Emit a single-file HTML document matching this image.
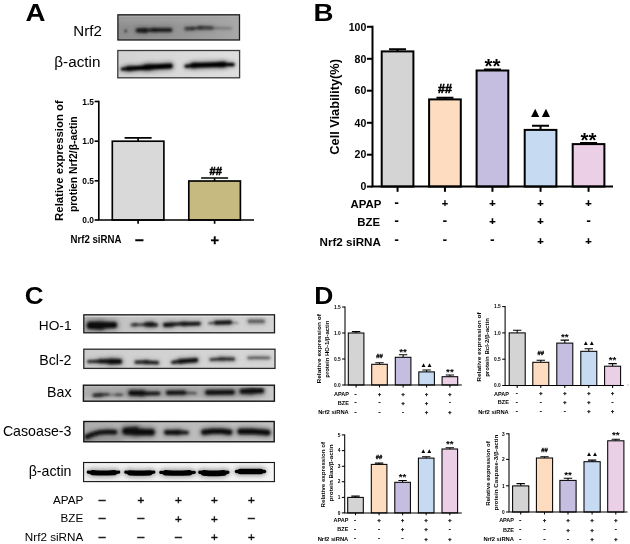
<!DOCTYPE html>
<html lang="en"><head><meta charset="utf-8"><title>Figure</title>
<style>html,body{margin:0;padding:0;background:#fff}svg{display:block;filter:blur(0.3px)}text{font-family:'Liberation Sans', 'DejaVu Sans', sans-serif;fill:#000}</style>
</head><body>
<svg width="630" height="544" viewBox="0 0 630 544">
<defs>
<filter id="halo" x="-20%" y="-150%" width="140%" height="400%"><feGaussianBlur stdDeviation="2.2"/></filter>
</defs>
<rect width="630" height="544" fill="#fff"/>
<text transform="translate(25.6,21.4) scale(1.14,1)" font-size="24.3" font-weight="bold">A</text>
<text x="73.3" y="36.4" font-size="15.1" text-anchor="start">Nrf2</text>
<text x="54.3" y="66.8" font-size="15.25" text-anchor="start">β-actin</text>
<linearGradient id="bg0" x1="0" y1="0" x2="1" y2="0"><stop offset="0" stop-color="#8e8e8e"/><stop offset="0.45" stop-color="#959595"/><stop offset="0.8" stop-color="#a0a0a0"/><stop offset="1" stop-color="#a9a9a9"/></linearGradient>
<clipPath id="cp0"><rect x="117.9" y="14.8" width="121.6" height="25.2"/></clipPath>
<filter id="bl0" filterUnits="userSpaceOnUse" x="109.9" y="6.8" width="137.6" height="41.2"><feGaussianBlur stdDeviation="1.05"/></filter>
<filter id="hl0" filterUnits="userSpaceOnUse" x="109.9" y="6.8" width="137.6" height="41.2"><feGaussianBlur stdDeviation="2.2"/></filter>
<rect x="117.9" y="14.8" width="121.6" height="25.2" fill="url(#bg0)"/>
<g clip-path="url(#cp0)">
<rect x="117" y="16" width="124" height="7" fill="#a8a8a8" opacity="0.5" filter="url(#halo)"/>
<g filter="url(#hl0)"><path d="M137.8 30.4 L146.0 30.5" stroke="#0c0c0c" stroke-width="6.84" stroke-opacity="0.24" fill="none" stroke-linecap="round" stroke-linejoin="round"/><path d="M144.0 30.3 L155.0 30.0" stroke="#0c0c0c" stroke-width="4.68" stroke-opacity="0.23" fill="none" stroke-linecap="round" stroke-linejoin="round"/><path d="M153.0 30.0 L170.5 30.0" stroke="#0c0c0c" stroke-width="6.12" stroke-opacity="0.24" fill="none" stroke-linecap="round" stroke-linejoin="round"/><path d="M186.0 28.8 L193.0 28.6" stroke="#0c0c0c" stroke-width="5.40" stroke-opacity="0.17" fill="none" stroke-linecap="round" stroke-linejoin="round"/><path d="M192.0 28.5 L201.0 28.0" stroke="#0c0c0c" stroke-width="3.96" stroke-opacity="0.15" fill="none" stroke-linecap="round" stroke-linejoin="round"/><path d="M199.0 27.8 L212.0 27.9" stroke="#0c0c0c" stroke-width="5.40" stroke-opacity="0.17" fill="none" stroke-linecap="round" stroke-linejoin="round"/><path d="M214.0 28.2 L231.0 28.4" stroke="#0c0c0c" stroke-width="3.24" stroke-opacity="0.07" fill="none" stroke-linecap="round" stroke-linejoin="round"/><path d="M125.7 31.0 L125.8 31.1" stroke="#0c0c0c" stroke-width="3.60" stroke-opacity="0.23" fill="none" stroke-linecap="round" stroke-linejoin="round"/></g>
<g filter="url(#bl0)"><path d="M137.8 30.4 L146.0 30.5" stroke="#0c0c0c" stroke-width="3.80" stroke-opacity="0.95" fill="none" stroke-linecap="round" stroke-linejoin="round"/><path d="M144.0 30.3 L155.0 30.0" stroke="#0c0c0c" stroke-width="2.60" stroke-opacity="0.90" fill="none" stroke-linecap="round" stroke-linejoin="round"/><path d="M153.0 30.0 L170.5 30.0" stroke="#0c0c0c" stroke-width="3.40" stroke-opacity="0.95" fill="none" stroke-linecap="round" stroke-linejoin="round"/><path d="M186.0 28.8 L193.0 28.6" stroke="#0c0c0c" stroke-width="3.00" stroke-opacity="0.70" fill="none" stroke-linecap="round" stroke-linejoin="round"/><path d="M192.0 28.5 L201.0 28.0" stroke="#0c0c0c" stroke-width="2.20" stroke-opacity="0.60" fill="none" stroke-linecap="round" stroke-linejoin="round"/><path d="M199.0 27.8 L212.0 27.9" stroke="#0c0c0c" stroke-width="3.00" stroke-opacity="0.70" fill="none" stroke-linecap="round" stroke-linejoin="round"/><path d="M214.0 28.2 L231.0 28.4" stroke="#0c0c0c" stroke-width="1.80" stroke-opacity="0.30" fill="none" stroke-linecap="round" stroke-linejoin="round"/><path d="M125.7 31.0 L125.8 31.1" stroke="#0c0c0c" stroke-width="2.00" stroke-opacity="0.90" fill="none" stroke-linecap="round" stroke-linejoin="round"/></g>
<rect x="117.9" y="15.65" width="121.6" height="1.2" fill="#b0b0b0" opacity="0.8"/>
</g>
<rect x="117.9" y="14.8" width="121.6" height="25.2" fill="none" stroke="#1c1c1c" stroke-width="1.3"/>
<linearGradient id="bg1" x1="0" y1="0" x2="1" y2="0"><stop offset="0" stop-color="#d2d2d2"/><stop offset="0.5" stop-color="#d9d9d9"/><stop offset="1" stop-color="#dedede"/></linearGradient>
<clipPath id="cp1"><rect x="117.8" y="50.5" width="121.8" height="27.3"/></clipPath>
<filter id="bl1" filterUnits="userSpaceOnUse" x="109.8" y="42.5" width="137.8" height="43.3"><feGaussianBlur stdDeviation="0.85"/></filter>
<filter id="hl1" filterUnits="userSpaceOnUse" x="109.8" y="42.5" width="137.8" height="43.3"><feGaussianBlur stdDeviation="2.2"/></filter>
<rect x="117.8" y="50.5" width="121.8" height="27.3" fill="url(#bg1)"/>
<g clip-path="url(#cp1)">

<g filter="url(#hl1)"><path d="M122.2 69.1 L132.0 68.5" stroke="#000" stroke-width="5.04" stroke-opacity="0.35" fill="none" stroke-linecap="round" stroke-linejoin="round"/><path d="M128.0 68.6 L150.0 67.3" stroke="#000" stroke-width="7.56" stroke-opacity="0.35" fill="none" stroke-linecap="round" stroke-linejoin="round"/><path d="M146.0 67.3 L170.2 65.9" stroke="#000" stroke-width="9.00" stroke-opacity="0.35" fill="none" stroke-linecap="round" stroke-linejoin="round"/><path d="M186.0 66.2 L196.0 65.5" stroke="#000" stroke-width="5.40" stroke-opacity="0.35" fill="none" stroke-linecap="round" stroke-linejoin="round"/><path d="M193.0 65.4 L224.0 64.5" stroke="#000" stroke-width="8.82" stroke-opacity="0.35" fill="none" stroke-linecap="round" stroke-linejoin="round"/><path d="M221.0 64.5 L233.0 64.6" stroke="#000" stroke-width="5.76" stroke-opacity="0.35" fill="none" stroke-linecap="round" stroke-linejoin="round"/></g>
<g filter="url(#bl1)"><path d="M122.2 69.1 L132.0 68.5" stroke="#000" stroke-width="2.80" stroke-opacity="1.00" fill="none" stroke-linecap="round" stroke-linejoin="round"/><path d="M128.0 68.6 L150.0 67.3" stroke="#000" stroke-width="4.20" stroke-opacity="1.00" fill="none" stroke-linecap="round" stroke-linejoin="round"/><path d="M146.0 67.3 L170.2 65.9" stroke="#000" stroke-width="5.00" stroke-opacity="1.00" fill="none" stroke-linecap="round" stroke-linejoin="round"/><path d="M186.0 66.2 L196.0 65.5" stroke="#000" stroke-width="3.00" stroke-opacity="1.00" fill="none" stroke-linecap="round" stroke-linejoin="round"/><path d="M193.0 65.4 L224.0 64.5" stroke="#000" stroke-width="4.90" stroke-opacity="1.00" fill="none" stroke-linecap="round" stroke-linejoin="round"/><path d="M221.0 64.5 L233.0 64.6" stroke="#000" stroke-width="3.20" stroke-opacity="1.00" fill="none" stroke-linecap="round" stroke-linejoin="round"/></g>
</g>
<rect x="117.8" y="50.5" width="121.8" height="27.3" fill="none" stroke="#3a3a3a" stroke-width="1.3"/>
<path d="M138.10 141.2 V137.80 M124.60 137.80 H151.60" stroke="#000" stroke-width="1.65" fill="none"/>
<rect x="112.3" y="141.2" width="51.6" height="78.80" fill="#d9d9d9" stroke="#000" stroke-width="1.65"/>
<path d="M138.10 220 V223.8" stroke="#000" stroke-width="1.65"/>
<path d="M214.60 181 V178.00 M201.10 178.00 H228.10" stroke="#000" stroke-width="1.65" fill="none"/>
<rect x="188.8" y="181" width="51.6" height="39.00" fill="#c6ba80" stroke="#000" stroke-width="1.65"/>
<path d="M214.60 220 V223.8" stroke="#000" stroke-width="1.65"/>
<path d="M98.8 100.675 V220 M97.975 220 H254" stroke="#000" stroke-width="1.65" fill="none"/>
<path d="M94.6 101.5 H98.8" stroke="#000" stroke-width="1.65"/>
<text x="94.0" y="104.51" font-size="8.4" font-weight="bold" text-anchor="end">1.5</text>
<path d="M94.6 141.2 H98.8" stroke="#000" stroke-width="1.65"/>
<text x="94.0" y="144.21" font-size="8.4" font-weight="bold" text-anchor="end">1.0</text>
<path d="M94.6 180.8 H98.8" stroke="#000" stroke-width="1.65"/>
<text x="94.0" y="183.81" font-size="8.4" font-weight="bold" text-anchor="end">0.5</text>
<path d="M94.6 220 H98.8" stroke="#000" stroke-width="1.65"/>
<text x="94.0" y="223.01" font-size="8.4" font-weight="bold" text-anchor="end">0.0</text>
<text x="215.8" y="174.9" font-size="11.2" font-weight="bold" text-anchor="middle" stroke="#000" stroke-width="0.50">##</text>
<text transform="translate(63,160.6) rotate(-90)" font-size="11.4" font-weight="bold" text-anchor="middle" textLength="120.6" lengthAdjust="spacingAndGlyphs">Relative expression of</text>
<text transform="translate(76.6,164.2) rotate(-90)" font-size="11.4" font-weight="bold" text-anchor="middle" textLength="95.6" lengthAdjust="spacingAndGlyphs">protien Nrf2/β-actin</text>
<text x="70.5" y="243.1" font-size="10.1" font-weight="bold" text-anchor="start" textLength="50.9" lengthAdjust="spacingAndGlyphs">Nrf2 siRNA</text>
<text x="139.40" y="245.06" font-size="15.6" font-weight="bold" text-anchor="middle" stroke="#000" stroke-width="0.35">–</text>
<text x="214.80" y="245.26" font-size="14.6" font-weight="bold" text-anchor="middle" stroke="#000" stroke-width="0.3">+</text>
<text transform="translate(313.6,21.3) scale(1.14,1)" font-size="24.3" font-weight="bold">B</text>
<path d="M397.55 51.4 V49.20 M389.05 49.20 H406.05" stroke="#000" stroke-width="2" fill="none"/>
<rect x="381.7" y="51.4" width="31.7" height="135.20" fill="#d4d4d4" stroke="#000" stroke-width="2"/>
<path d="M397.55 186.6 V191.79999999999998" stroke="#000" stroke-width="2"/>
<path d="M444.95 99.4 V97.80 M436.45 97.80 H453.45" stroke="#000" stroke-width="2" fill="none"/>
<rect x="429.1" y="99.4" width="31.7" height="87.20" fill="#fddcc0" stroke="#000" stroke-width="2"/>
<path d="M444.95 186.6 V191.79999999999998" stroke="#000" stroke-width="2"/>
<path d="M492.45 70.5 V69.50 M483.95 69.50 H500.95" stroke="#000" stroke-width="2" fill="none"/>
<rect x="476.6" y="70.5" width="31.7" height="116.10" fill="#c6bee0" stroke="#000" stroke-width="2"/>
<path d="M492.45 186.6 V191.79999999999998" stroke="#000" stroke-width="2"/>
<path d="M540.55 129.9 V125.70 M532.05 125.70 H549.05" stroke="#000" stroke-width="2" fill="none"/>
<rect x="524.7" y="129.9" width="31.7" height="56.70" fill="#c6daf2" stroke="#000" stroke-width="2"/>
<path d="M540.55 186.6 V191.79999999999998" stroke="#000" stroke-width="2"/>
<path d="M588.55 144.1 V143.10 M580.05 143.10 H597.05" stroke="#000" stroke-width="2" fill="none"/>
<rect x="572.7" y="144.1" width="31.7" height="42.50" fill="#ebcfe6" stroke="#000" stroke-width="2"/>
<path d="M588.55 186.6 V191.79999999999998" stroke="#000" stroke-width="2"/>
<path d="M372.5 25.8 V186.6 M371.5 186.6 H613" stroke="#000" stroke-width="2" fill="none"/>
<path d="M366.9 26.8 H372.5" stroke="#000" stroke-width="2"/>
<text x="366.29999999999995" y="30.56" font-size="10.5" font-weight="bold" text-anchor="end">100</text>
<path d="M366.9 58.8 H372.5" stroke="#000" stroke-width="2"/>
<text x="366.29999999999995" y="62.56" font-size="10.5" font-weight="bold" text-anchor="end">80</text>
<path d="M366.9 90.7 H372.5" stroke="#000" stroke-width="2"/>
<text x="366.29999999999995" y="94.46" font-size="10.5" font-weight="bold" text-anchor="end">60</text>
<path d="M366.9 122.8 H372.5" stroke="#000" stroke-width="2"/>
<text x="366.29999999999995" y="126.56" font-size="10.5" font-weight="bold" text-anchor="end">40</text>
<path d="M366.9 154.7 H372.5" stroke="#000" stroke-width="2"/>
<text x="366.29999999999995" y="158.46" font-size="10.5" font-weight="bold" text-anchor="end">20</text>
<path d="M366.9 186.6 H372.5" stroke="#000" stroke-width="2"/>
<text x="366.29999999999995" y="190.36" font-size="10.5" font-weight="bold" text-anchor="end">0</text>
<text x="444.95" y="93.3" font-size="12.5" font-weight="bold" text-anchor="middle" stroke="#000" stroke-width="0.56">##</text>
<text x="492.45" y="73.3" font-size="20.5" font-weight="bold" text-anchor="middle">**</text>
<text x="539.05" y="117.1" font-size="14" font-weight="bold" text-anchor="middle" letter-spacing="-3">▲▲</text>
<text x="588.55" y="147.4" font-size="20.5" font-weight="bold" text-anchor="middle">**</text>
<text transform="translate(339.1,106.9) rotate(-90)" font-size="12.6" font-weight="bold" text-anchor="middle" textLength="95.6" lengthAdjust="spacingAndGlyphs">Cell Viability(%)</text>
<text x="381.3" y="207.5" font-size="11.4" font-weight="bold" text-anchor="end">APAP</text>
<text x="396.55" y="206.94" font-size="12.6" font-weight="bold" text-anchor="middle" stroke="#000" stroke-width="0.2">-</text><text x="444.95" y="207.34" font-size="11.0" font-weight="bold" text-anchor="middle" stroke="#000" stroke-width="0.2">+</text><text x="492.45" y="207.34" font-size="11.0" font-weight="bold" text-anchor="middle" stroke="#000" stroke-width="0.2">+</text><text x="540.55" y="207.34" font-size="11.0" font-weight="bold" text-anchor="middle" stroke="#000" stroke-width="0.2">+</text><text x="588.55" y="207.34" font-size="11.0" font-weight="bold" text-anchor="middle" stroke="#000" stroke-width="0.2">+</text>
<text x="380.0" y="226" font-size="11.4" font-weight="bold" text-anchor="end">BZE</text>
<text x="396.55" y="224.64" font-size="12.6" font-weight="bold" text-anchor="middle" stroke="#000" stroke-width="0.2">-</text><text x="444.95" y="224.64" font-size="12.6" font-weight="bold" text-anchor="middle" stroke="#000" stroke-width="0.2">-</text><text x="492.45" y="225.04" font-size="11.0" font-weight="bold" text-anchor="middle" stroke="#000" stroke-width="0.2">+</text><text x="540.55" y="225.04" font-size="11.0" font-weight="bold" text-anchor="middle" stroke="#000" stroke-width="0.2">+</text><text x="588.55" y="224.64" font-size="12.6" font-weight="bold" text-anchor="middle" stroke="#000" stroke-width="0.2">-</text>
<text x="380.8" y="245.6" font-size="11.6" font-weight="bold" text-anchor="end">Nrf2 siRNA</text>
<text x="396.55" y="244.34" font-size="12.6" font-weight="bold" text-anchor="middle" stroke="#000" stroke-width="0.2">-</text><text x="444.95" y="244.34" font-size="12.6" font-weight="bold" text-anchor="middle" stroke="#000" stroke-width="0.2">-</text><text x="492.45" y="244.34" font-size="12.6" font-weight="bold" text-anchor="middle" stroke="#000" stroke-width="0.2">-</text><text x="540.55" y="244.74" font-size="11.0" font-weight="bold" text-anchor="middle" stroke="#000" stroke-width="0.2">+</text><text x="588.55" y="244.74" font-size="11.0" font-weight="bold" text-anchor="middle" stroke="#000" stroke-width="0.2">+</text>
<text transform="translate(24.8,304.0) scale(1.07,1)" font-size="24.3" font-weight="bold">C</text>
<text x="71.5" y="330.2" font-size="13.7" text-anchor="end">HO-1</text>
<text x="71.5" y="364.8" font-size="14.2" text-anchor="end">Bcl-2</text>
<text x="71.5" y="397.1" font-size="14.2" text-anchor="end">Bax</text>
<text x="71.5" y="436.1" font-size="14.2" text-anchor="end">Casoase-3</text>
<text x="71.5" y="476.3" font-size="14.2" text-anchor="end">β-actin</text>
<linearGradient id="bg2" x1="0" y1="0" x2="1" y2="0"><stop offset="0" stop-color="#b4b4b4"/><stop offset="0.25" stop-color="#c6c6c6"/><stop offset="0.6" stop-color="#cecece"/><stop offset="1" stop-color="#d4d4d4"/></linearGradient>
<clipPath id="cp2"><rect x="83.8" y="314.8" width="190.7" height="18"/></clipPath>
<filter id="bl2" filterUnits="userSpaceOnUse" x="75.8" y="306.8" width="206.7" height="34.0"><feGaussianBlur stdDeviation="0.8"/></filter>
<filter id="hl2" filterUnits="userSpaceOnUse" x="75.8" y="306.8" width="206.7" height="34.0"><feGaussianBlur stdDeviation="2.2"/></filter>
<rect x="83.8" y="314.8" width="190.7" height="18" fill="url(#bg2)"/>
<g clip-path="url(#cp2)">

<g filter="url(#hl2)"><path d="M90.5 325.4 L101.0 325.6" stroke="#0c0c0c" stroke-width="12.96" stroke-opacity="0.30" fill="none" stroke-linecap="round" stroke-linejoin="round"/><path d="M100.0 325.3 L114.0 325.0" stroke="#0c0c0c" stroke-width="10.80" stroke-opacity="0.30" fill="none" stroke-linecap="round" stroke-linejoin="round"/><path d="M132.0 325.0 L136.0 324.8" stroke="#0c0c0c" stroke-width="4.68" stroke-opacity="0.22" fill="none" stroke-linecap="round" stroke-linejoin="round"/><path d="M135.0 324.9 L146.0 324.6" stroke="#0c0c0c" stroke-width="4.32" stroke-opacity="0.21" fill="none" stroke-linecap="round" stroke-linejoin="round"/><path d="M146.5 324.5 L152.0 324.4" stroke="#0c0c0c" stroke-width="7.56" stroke-opacity="0.28" fill="none" stroke-linecap="round" stroke-linejoin="round"/><path d="M151.0 324.8 L156.5 325.0" stroke="#0c0c0c" stroke-width="5.40" stroke-opacity="0.28" fill="none" stroke-linecap="round" stroke-linejoin="round"/><path d="M165.0 325.0 L172.0 324.6" stroke="#0c0c0c" stroke-width="6.84" stroke-opacity="0.30" fill="none" stroke-linecap="round" stroke-linejoin="round"/><path d="M171.0 324.3 L185.0 323.6" stroke="#0c0c0c" stroke-width="5.04" stroke-opacity="0.30" fill="none" stroke-linecap="round" stroke-linejoin="round"/><path d="M183.0 324.0 L199.0 323.6" stroke="#0c0c0c" stroke-width="6.12" stroke-opacity="0.30" fill="none" stroke-linecap="round" stroke-linejoin="round"/><path d="M209.0 323.4 L216.0 322.8" stroke="#0c0c0c" stroke-width="2.88" stroke-opacity="0.21" fill="none" stroke-linecap="round" stroke-linejoin="round"/><path d="M216.0 322.7 L230.0 322.4" stroke="#0c0c0c" stroke-width="6.48" stroke-opacity="0.30" fill="none" stroke-linecap="round" stroke-linejoin="round"/><path d="M230.0 322.6 L238.0 323.0" stroke="#0c0c0c" stroke-width="2.16" stroke-opacity="0.15" fill="none" stroke-linecap="round" stroke-linejoin="round"/><path d="M249.5 321.3 L263.0 321.4" stroke="#222" stroke-width="6.84" stroke-opacity="0.18" fill="none" stroke-linecap="round" stroke-linejoin="round"/></g>
<g filter="url(#bl2)"><path d="M90.5 325.4 L101.0 325.6" stroke="#0c0c0c" stroke-width="7.20" stroke-opacity="1.00" fill="none" stroke-linecap="round" stroke-linejoin="round"/><path d="M100.0 325.3 L114.0 325.0" stroke="#0c0c0c" stroke-width="6.00" stroke-opacity="1.00" fill="none" stroke-linecap="round" stroke-linejoin="round"/><path d="M132.0 325.0 L136.0 324.8" stroke="#0c0c0c" stroke-width="2.60" stroke-opacity="0.75" fill="none" stroke-linecap="round" stroke-linejoin="round"/><path d="M135.0 324.9 L146.0 324.6" stroke="#0c0c0c" stroke-width="2.40" stroke-opacity="0.70" fill="none" stroke-linecap="round" stroke-linejoin="round"/><path d="M146.5 324.5 L152.0 324.4" stroke="#0c0c0c" stroke-width="4.20" stroke-opacity="0.95" fill="none" stroke-linecap="round" stroke-linejoin="round"/><path d="M151.0 324.8 L156.5 325.0" stroke="#0c0c0c" stroke-width="3.00" stroke-opacity="0.95" fill="none" stroke-linecap="round" stroke-linejoin="round"/><path d="M165.0 325.0 L172.0 324.6" stroke="#0c0c0c" stroke-width="3.80" stroke-opacity="1.00" fill="none" stroke-linecap="round" stroke-linejoin="round"/><path d="M171.0 324.3 L185.0 323.6" stroke="#0c0c0c" stroke-width="2.80" stroke-opacity="1.00" fill="none" stroke-linecap="round" stroke-linejoin="round"/><path d="M183.0 324.0 L199.0 323.6" stroke="#0c0c0c" stroke-width="3.40" stroke-opacity="1.00" fill="none" stroke-linecap="round" stroke-linejoin="round"/><path d="M209.0 323.4 L216.0 322.8" stroke="#0c0c0c" stroke-width="1.60" stroke-opacity="0.70" fill="none" stroke-linecap="round" stroke-linejoin="round"/><path d="M216.0 322.7 L230.0 322.4" stroke="#0c0c0c" stroke-width="3.60" stroke-opacity="1.00" fill="none" stroke-linecap="round" stroke-linejoin="round"/><path d="M230.0 322.6 L238.0 323.0" stroke="#0c0c0c" stroke-width="1.20" stroke-opacity="0.50" fill="none" stroke-linecap="round" stroke-linejoin="round"/><path d="M249.5 321.3 L263.0 321.4" stroke="#222" stroke-width="3.80" stroke-opacity="0.60" fill="none" stroke-linecap="round" stroke-linejoin="round"/></g>
<rect x="83.8" y="315.65" width="190.7" height="1.2" fill="#e6e6e6" opacity="0.8"/>
</g>
<rect x="83.8" y="314.8" width="190.7" height="18" fill="none" stroke="#1c1c1c" stroke-width="1.3"/>
<linearGradient id="bg3" x1="0" y1="0" x2="1" y2="0"><stop offset="0" stop-color="#cdcdcd"/><stop offset="0.5" stop-color="#d3d3d3"/><stop offset="1" stop-color="#d6d6d6"/></linearGradient>
<clipPath id="cp3"><rect x="83.8" y="349.2" width="191.2" height="19.2"/></clipPath>
<filter id="bl3" filterUnits="userSpaceOnUse" x="75.8" y="341.2" width="207.2" height="35.2"><feGaussianBlur stdDeviation="0.8"/></filter>
<filter id="hl3" filterUnits="userSpaceOnUse" x="75.8" y="341.2" width="207.2" height="35.2"><feGaussianBlur stdDeviation="2.2"/></filter>
<rect x="83.8" y="349.2" width="191.2" height="19.2" fill="url(#bg3)"/>
<g clip-path="url(#cp3)">

<g filter="url(#hl3)"><path d="M88.5 361.6 L104.0 361.0" stroke="#0c0c0c" stroke-width="4.32" stroke-opacity="0.30" fill="none" stroke-linecap="round" stroke-linejoin="round"/><path d="M100.0 361.2 L113.0 361.4" stroke="#0c0c0c" stroke-width="6.48" stroke-opacity="0.30" fill="none" stroke-linecap="round" stroke-linejoin="round"/><path d="M110.0 361.5 L119.5 361.6" stroke="#0c0c0c" stroke-width="9.00" stroke-opacity="0.30" fill="none" stroke-linecap="round" stroke-linejoin="round"/><path d="M136.0 362.2 L147.0 362.0" stroke="#0c0c0c" stroke-width="5.04" stroke-opacity="0.28" fill="none" stroke-linecap="round" stroke-linejoin="round"/><path d="M146.0 362.2 L157.5 362.8" stroke="#0c0c0c" stroke-width="5.40" stroke-opacity="0.28" fill="none" stroke-linecap="round" stroke-linejoin="round"/><path d="M172.5 362.4 L181.0 361.4" stroke="#0c0c0c" stroke-width="4.68" stroke-opacity="0.30" fill="none" stroke-linecap="round" stroke-linejoin="round"/><path d="M180.0 361.3 L196.0 360.2" stroke="#0c0c0c" stroke-width="7.56" stroke-opacity="0.30" fill="none" stroke-linecap="round" stroke-linejoin="round"/><path d="M211.0 359.6 L222.0 358.9" stroke="#1a1a1a" stroke-width="5.04" stroke-opacity="0.26" fill="none" stroke-linecap="round" stroke-linejoin="round"/><path d="M221.0 358.9 L233.5 359.2" stroke="#1a1a1a" stroke-width="5.76" stroke-opacity="0.26" fill="none" stroke-linecap="round" stroke-linejoin="round"/><path d="M248.5 358.0 L258.0 357.6 L269.0 357.9" stroke="#2a2a2a" stroke-width="4.32" stroke-opacity="0.21" fill="none" stroke-linecap="round" stroke-linejoin="round"/></g>
<g filter="url(#bl3)"><path d="M88.5 361.6 L104.0 361.0" stroke="#0c0c0c" stroke-width="2.40" stroke-opacity="1.00" fill="none" stroke-linecap="round" stroke-linejoin="round"/><path d="M100.0 361.2 L113.0 361.4" stroke="#0c0c0c" stroke-width="3.60" stroke-opacity="1.00" fill="none" stroke-linecap="round" stroke-linejoin="round"/><path d="M110.0 361.5 L119.5 361.6" stroke="#0c0c0c" stroke-width="5.00" stroke-opacity="1.00" fill="none" stroke-linecap="round" stroke-linejoin="round"/><path d="M136.0 362.2 L147.0 362.0" stroke="#0c0c0c" stroke-width="2.80" stroke-opacity="0.95" fill="none" stroke-linecap="round" stroke-linejoin="round"/><path d="M146.0 362.2 L157.5 362.8" stroke="#0c0c0c" stroke-width="3.00" stroke-opacity="0.95" fill="none" stroke-linecap="round" stroke-linejoin="round"/><path d="M172.5 362.4 L181.0 361.4" stroke="#0c0c0c" stroke-width="2.60" stroke-opacity="1.00" fill="none" stroke-linecap="round" stroke-linejoin="round"/><path d="M180.0 361.3 L196.0 360.2" stroke="#0c0c0c" stroke-width="4.20" stroke-opacity="1.00" fill="none" stroke-linecap="round" stroke-linejoin="round"/><path d="M211.0 359.6 L222.0 358.9" stroke="#1a1a1a" stroke-width="2.80" stroke-opacity="0.85" fill="none" stroke-linecap="round" stroke-linejoin="round"/><path d="M221.0 358.9 L233.5 359.2" stroke="#1a1a1a" stroke-width="3.20" stroke-opacity="0.85" fill="none" stroke-linecap="round" stroke-linejoin="round"/><path d="M248.5 358.0 L258.0 357.6 L269.0 357.9" stroke="#2a2a2a" stroke-width="2.40" stroke-opacity="0.70" fill="none" stroke-linecap="round" stroke-linejoin="round"/></g>
</g>
<rect x="83.8" y="349.2" width="191.2" height="19.2" fill="none" stroke="#2a2a2a" stroke-width="1.3"/>
<linearGradient id="bg4" x1="0" y1="0" x2="1" y2="0"><stop offset="0" stop-color="#acacac"/><stop offset="0.5" stop-color="#a9a9a9"/><stop offset="0.85" stop-color="#b0b0b0"/><stop offset="0.96" stop-color="#c6c6c6"/><stop offset="1" stop-color="#cacaca"/></linearGradient>
<clipPath id="cp4"><rect x="83.4" y="385.2" width="191" height="16"/></clipPath>
<filter id="bl4" filterUnits="userSpaceOnUse" x="75.4" y="377.2" width="207.0" height="32.0"><feGaussianBlur stdDeviation="1.0"/></filter>
<filter id="hl4" filterUnits="userSpaceOnUse" x="75.4" y="377.2" width="207.0" height="32.0"><feGaussianBlur stdDeviation="2.2"/></filter>
<rect x="83.4" y="385.2" width="191" height="16" fill="url(#bg4)"/>
<g clip-path="url(#cp4)">
<rect x="83" y="398" width="192" height="4" fill="#cccccc" opacity="0.75" filter="url(#halo)"/>
<g filter="url(#hl4)"><path d="M94.0 395.3 L101.0 395.0" stroke="#0c0c0c" stroke-width="4.32" stroke-opacity="0.41" fill="none" stroke-linecap="round" stroke-linejoin="round"/><path d="M100.0 394.8 L108.0 394.4" stroke="#0c0c0c" stroke-width="3.24" stroke-opacity="0.36" fill="none" stroke-linecap="round" stroke-linejoin="round"/><path d="M108.0 394.6 L116.0 394.8" stroke="#0c0c0c" stroke-width="2.16" stroke-opacity="0.16" fill="none" stroke-linecap="round" stroke-linejoin="round"/><path d="M116.5 394.8 L122.0 394.8" stroke="#0c0c0c" stroke-width="3.60" stroke-opacity="0.25" fill="none" stroke-linecap="round" stroke-linejoin="round"/><path d="M131.0 393.0 L143.0 393.2" stroke="#0c0c0c" stroke-width="8.28" stroke-opacity="0.45" fill="none" stroke-linecap="round" stroke-linejoin="round"/><path d="M142.0 393.6 L158.5 393.4" stroke="#0c0c0c" stroke-width="5.04" stroke-opacity="0.45" fill="none" stroke-linecap="round" stroke-linejoin="round"/><path d="M168.0 392.8 L184.0 392.6" stroke="#0c0c0c" stroke-width="6.12" stroke-opacity="0.45" fill="none" stroke-linecap="round" stroke-linejoin="round"/><path d="M184.0 393.0 L196.0 393.2" stroke="#0c0c0c" stroke-width="2.88" stroke-opacity="0.27" fill="none" stroke-linecap="round" stroke-linejoin="round"/><path d="M207.5 392.4 L232.5 392.2" stroke="#0c0c0c" stroke-width="7.20" stroke-opacity="0.45" fill="none" stroke-linecap="round" stroke-linejoin="round"/><path d="M242.0 391.4 L251.0 391.2" stroke="#0c0c0c" stroke-width="7.56" stroke-opacity="0.45" fill="none" stroke-linecap="round" stroke-linejoin="round"/><path d="M250.0 391.0 L261.5 390.8" stroke="#0c0c0c" stroke-width="8.28" stroke-opacity="0.45" fill="none" stroke-linecap="round" stroke-linejoin="round"/></g>
<g filter="url(#bl4)"><path d="M94.0 395.3 L101.0 395.0" stroke="#0c0c0c" stroke-width="2.40" stroke-opacity="0.90" fill="none" stroke-linecap="round" stroke-linejoin="round"/><path d="M100.0 394.8 L108.0 394.4" stroke="#0c0c0c" stroke-width="1.80" stroke-opacity="0.80" fill="none" stroke-linecap="round" stroke-linejoin="round"/><path d="M108.0 394.6 L116.0 394.8" stroke="#0c0c0c" stroke-width="1.20" stroke-opacity="0.35" fill="none" stroke-linecap="round" stroke-linejoin="round"/><path d="M116.5 394.8 L122.0 394.8" stroke="#0c0c0c" stroke-width="2.00" stroke-opacity="0.55" fill="none" stroke-linecap="round" stroke-linejoin="round"/><path d="M131.0 393.0 L143.0 393.2" stroke="#0c0c0c" stroke-width="4.60" stroke-opacity="1.00" fill="none" stroke-linecap="round" stroke-linejoin="round"/><path d="M142.0 393.6 L158.5 393.4" stroke="#0c0c0c" stroke-width="2.80" stroke-opacity="1.00" fill="none" stroke-linecap="round" stroke-linejoin="round"/><path d="M168.0 392.8 L184.0 392.6" stroke="#0c0c0c" stroke-width="3.40" stroke-opacity="1.00" fill="none" stroke-linecap="round" stroke-linejoin="round"/><path d="M184.0 393.0 L196.0 393.2" stroke="#0c0c0c" stroke-width="1.60" stroke-opacity="0.60" fill="none" stroke-linecap="round" stroke-linejoin="round"/><path d="M207.5 392.4 L232.5 392.2" stroke="#0c0c0c" stroke-width="4.00" stroke-opacity="1.00" fill="none" stroke-linecap="round" stroke-linejoin="round"/><path d="M242.0 391.4 L251.0 391.2" stroke="#0c0c0c" stroke-width="4.20" stroke-opacity="1.00" fill="none" stroke-linecap="round" stroke-linejoin="round"/><path d="M250.0 391.0 L261.5 390.8" stroke="#0c0c0c" stroke-width="4.60" stroke-opacity="1.00" fill="none" stroke-linecap="round" stroke-linejoin="round"/></g>
<rect x="83.4" y="386.09999999999997" width="191" height="1.2" fill="#bcbcbc" opacity="0.8"/>
</g>
<rect x="83.4" y="385.2" width="191" height="16" fill="none" stroke="#141414" stroke-width="1.4"/>
<linearGradient id="bg5" x1="0" y1="0" x2="1" y2="0"><stop offset="0" stop-color="#acacac"/><stop offset="0.3" stop-color="#bababa"/><stop offset="0.7" stop-color="#bebebe"/><stop offset="1" stop-color="#c4c4c4"/></linearGradient>
<clipPath id="cp5"><rect x="83.8" y="421.5" width="190.4" height="20.3"/></clipPath>
<filter id="bl5" filterUnits="userSpaceOnUse" x="75.8" y="413.5" width="206.4" height="36.3"><feGaussianBlur stdDeviation="0.9"/></filter>
<filter id="hl5" filterUnits="userSpaceOnUse" x="75.8" y="413.5" width="206.4" height="36.3"><feGaussianBlur stdDeviation="2.2"/></filter>
<rect x="83.8" y="421.5" width="190.4" height="20.3" fill="url(#bg5)"/>
<g clip-path="url(#cp5)">
<rect x="83" y="436" width="40" height="7" fill="#8c8c8c" opacity="0.6" filter="url(#halo)"/>
<g filter="url(#hl5)"><path d="M87.0 436.8 L93.0 434.2 L100.0 432.4 L108.0 431.8 L115.0 432.2" stroke="#0c0c0c" stroke-width="7.56" stroke-opacity="0.38" fill="none" stroke-linecap="round" stroke-linejoin="round"/><path d="M126.0 431.2 L136.0 431.0" stroke="#0c0c0c" stroke-width="12.24" stroke-opacity="0.40" fill="none" stroke-linecap="round" stroke-linejoin="round"/><path d="M135.0 432.0 L151.5 432.2" stroke="#0c0c0c" stroke-width="10.80" stroke-opacity="0.40" fill="none" stroke-linecap="round" stroke-linejoin="round"/><path d="M166.5 432.4 L179.0 432.3" stroke="#0c0c0c" stroke-width="7.56" stroke-opacity="0.40" fill="none" stroke-linecap="round" stroke-linejoin="round"/><path d="M178.0 432.4 L187.0 432.6" stroke="#0c0c0c" stroke-width="5.76" stroke-opacity="0.36" fill="none" stroke-linecap="round" stroke-linejoin="round"/><path d="M204.0 432.2 L212.0 431.2 L222.0 431.2 L229.5 432.2" stroke="#0c0c0c" stroke-width="9.00" stroke-opacity="0.40" fill="none" stroke-linecap="round" stroke-linejoin="round"/><path d="M240.5 431.5 L252.0 431.4 L267.5 432.6" stroke="#0c0c0c" stroke-width="9.72" stroke-opacity="0.40" fill="none" stroke-linecap="round" stroke-linejoin="round"/></g>
<g filter="url(#bl5)"><path d="M87.0 436.8 L93.0 434.2 L100.0 432.4 L108.0 431.8 L115.0 432.2" stroke="#0c0c0c" stroke-width="4.20" stroke-opacity="0.95" fill="none" stroke-linecap="round" stroke-linejoin="round"/><path d="M126.0 431.2 L136.0 431.0" stroke="#0c0c0c" stroke-width="6.80" stroke-opacity="1.00" fill="none" stroke-linecap="round" stroke-linejoin="round"/><path d="M135.0 432.0 L151.5 432.2" stroke="#0c0c0c" stroke-width="6.00" stroke-opacity="1.00" fill="none" stroke-linecap="round" stroke-linejoin="round"/><path d="M166.5 432.4 L179.0 432.3" stroke="#0c0c0c" stroke-width="4.20" stroke-opacity="1.00" fill="none" stroke-linecap="round" stroke-linejoin="round"/><path d="M178.0 432.4 L187.0 432.6" stroke="#0c0c0c" stroke-width="3.20" stroke-opacity="0.90" fill="none" stroke-linecap="round" stroke-linejoin="round"/><path d="M204.0 432.2 L212.0 431.2 L222.0 431.2 L229.5 432.2" stroke="#0c0c0c" stroke-width="5.00" stroke-opacity="1.00" fill="none" stroke-linecap="round" stroke-linejoin="round"/><path d="M240.5 431.5 L252.0 431.4 L267.5 432.6" stroke="#0c0c0c" stroke-width="5.40" stroke-opacity="1.00" fill="none" stroke-linecap="round" stroke-linejoin="round"/></g>
</g>
<rect x="83.8" y="421.5" width="190.4" height="20.3" fill="none" stroke="#141414" stroke-width="1.4"/>
<linearGradient id="bg6" x1="0" y1="0" x2="1" y2="0"><stop offset="0" stop-color="#f1f1f1"/><stop offset="1" stop-color="#f4f4f4"/></linearGradient>
<clipPath id="cp6"><rect x="83.6" y="462.5" width="190.8" height="19.1"/></clipPath>
<filter id="bl6" filterUnits="userSpaceOnUse" x="75.6" y="454.5" width="206.8" height="35.1"><feGaussianBlur stdDeviation="0.75"/></filter>
<filter id="hl6" filterUnits="userSpaceOnUse" x="75.6" y="454.5" width="206.8" height="35.1"><feGaussianBlur stdDeviation="2.2"/></filter>
<rect x="83.6" y="462.5" width="190.8" height="19.1" fill="url(#bg6)"/>
<g clip-path="url(#cp6)">

<g filter="url(#hl6)"><path d="M88.3 472.2 L97.4 473.0 L109.6 473.0 L118.7 472.2" stroke="#000" stroke-width="5.80" stroke-opacity="0.20" fill="none" stroke-linecap="round" stroke-linejoin="round"/><path d="M92.6 472.7 L98.9 473.0 L108.1 473.0 L114.4 472.7" stroke="#000" stroke-width="9.36" stroke-opacity="0.20" fill="none" stroke-linecap="round" stroke-linejoin="round"/><path d="M125.8 472.2 L134.2 473.2 L145.4 473.2 L153.8 472.2" stroke="#000" stroke-width="5.91" stroke-opacity="0.20" fill="none" stroke-linecap="round" stroke-linejoin="round"/><path d="M129.7 472.8 L135.6 473.2 L144.0 473.2 L149.9 472.8" stroke="#000" stroke-width="9.54" stroke-opacity="0.20" fill="none" stroke-linecap="round" stroke-linejoin="round"/><path d="M160.8 472.4 L170.8 473.1 L184.2 473.1 L194.2 472.4" stroke="#000" stroke-width="6.03" stroke-opacity="0.20" fill="none" stroke-linecap="round" stroke-linejoin="round"/><path d="M165.5 472.8 L172.5 473.1 L182.5 473.1 L189.5 472.8" stroke="#000" stroke-width="9.72" stroke-opacity="0.20" fill="none" stroke-linecap="round" stroke-linejoin="round"/><path d="M199.8 472.2 L208.2 473.4 L219.4 473.4 L227.8 472.2" stroke="#000" stroke-width="6.25" stroke-opacity="0.20" fill="none" stroke-linecap="round" stroke-linejoin="round"/><path d="M203.7 472.9 L209.6 473.4 L218.0 473.4 L223.9 472.9" stroke="#000" stroke-width="10.08" stroke-opacity="0.20" fill="none" stroke-linecap="round" stroke-linejoin="round"/><path d="M236.5 471.5 L244.9 471.5 L256.1 471.5 L264.5 471.5" stroke="#000" stroke-width="6.25" stroke-opacity="0.20" fill="none" stroke-linecap="round" stroke-linejoin="round"/><path d="M240.4 471.5 L246.3 471.5 L254.7 471.5 L260.6 471.5" stroke="#000" stroke-width="10.08" stroke-opacity="0.20" fill="none" stroke-linecap="round" stroke-linejoin="round"/></g>
<g filter="url(#bl6)"><path d="M88.3 472.2 L97.4 473.0 L109.6 473.0 L118.7 472.2" stroke="#000" stroke-width="3.22" stroke-opacity="1.00" fill="none" stroke-linecap="round" stroke-linejoin="round"/><path d="M92.6 472.7 L98.9 473.0 L108.1 473.0 L114.4 472.7" stroke="#000" stroke-width="5.20" stroke-opacity="1.00" fill="none" stroke-linecap="round" stroke-linejoin="round"/><path d="M125.8 472.2 L134.2 473.2 L145.4 473.2 L153.8 472.2" stroke="#000" stroke-width="3.29" stroke-opacity="1.00" fill="none" stroke-linecap="round" stroke-linejoin="round"/><path d="M129.7 472.8 L135.6 473.2 L144.0 473.2 L149.9 472.8" stroke="#000" stroke-width="5.30" stroke-opacity="1.00" fill="none" stroke-linecap="round" stroke-linejoin="round"/><path d="M160.8 472.4 L170.8 473.1 L184.2 473.1 L194.2 472.4" stroke="#000" stroke-width="3.35" stroke-opacity="1.00" fill="none" stroke-linecap="round" stroke-linejoin="round"/><path d="M165.5 472.8 L172.5 473.1 L182.5 473.1 L189.5 472.8" stroke="#000" stroke-width="5.40" stroke-opacity="1.00" fill="none" stroke-linecap="round" stroke-linejoin="round"/><path d="M199.8 472.2 L208.2 473.4 L219.4 473.4 L227.8 472.2" stroke="#000" stroke-width="3.47" stroke-opacity="1.00" fill="none" stroke-linecap="round" stroke-linejoin="round"/><path d="M203.7 472.9 L209.6 473.4 L218.0 473.4 L223.9 472.9" stroke="#000" stroke-width="5.60" stroke-opacity="1.00" fill="none" stroke-linecap="round" stroke-linejoin="round"/><path d="M236.5 471.5 L244.9 471.5 L256.1 471.5 L264.5 471.5" stroke="#000" stroke-width="3.47" stroke-opacity="1.00" fill="none" stroke-linecap="round" stroke-linejoin="round"/><path d="M240.4 471.5 L246.3 471.5 L254.7 471.5 L260.6 471.5" stroke="#000" stroke-width="5.60" stroke-opacity="1.00" fill="none" stroke-linecap="round" stroke-linejoin="round"/></g>
</g>
<rect x="83.6" y="462.5" width="190.8" height="19.1" fill="none" stroke="#141414" stroke-width="1.1"/>
<text x="83.3" y="503.8" font-size="11.7" text-anchor="end">APAP</text>
<text x="102.00" y="503.62" font-size="12.0" text-anchor="middle" stroke="#1a1a1a" stroke-width="0.5" fill="#1a1a1a">–</text><text x="140.80" y="504.44" font-size="11.6" text-anchor="middle" stroke="#1a1a1a" stroke-width="0.5" fill="#1a1a1a">+</text><text x="178.30" y="504.44" font-size="11.6" text-anchor="middle" stroke="#1a1a1a" stroke-width="0.5" fill="#1a1a1a">+</text><text x="214.40" y="504.44" font-size="11.6" text-anchor="middle" stroke="#1a1a1a" stroke-width="0.5" fill="#1a1a1a">+</text><text x="251.30" y="504.44" font-size="11.6" text-anchor="middle" stroke="#1a1a1a" stroke-width="0.5" fill="#1a1a1a">+</text>
<text x="83.3" y="521.9" font-size="11.7" text-anchor="end">BZE</text>
<text x="102.00" y="522.42" font-size="12.0" text-anchor="middle" stroke="#1a1a1a" stroke-width="0.5" fill="#1a1a1a">–</text><text x="140.80" y="522.42" font-size="12.0" text-anchor="middle" stroke="#1a1a1a" stroke-width="0.5" fill="#1a1a1a">–</text><text x="178.30" y="523.24" font-size="11.6" text-anchor="middle" stroke="#1a1a1a" stroke-width="0.5" fill="#1a1a1a">+</text><text x="214.40" y="523.24" font-size="11.6" text-anchor="middle" stroke="#1a1a1a" stroke-width="0.5" fill="#1a1a1a">+</text><text x="251.30" y="522.42" font-size="12.0" text-anchor="middle" stroke="#1a1a1a" stroke-width="0.5" fill="#1a1a1a">–</text>
<text x="83.3" y="541.1" font-size="11.7" text-anchor="end">Nrf2 siRNA</text>
<text x="102.00" y="540.52" font-size="12.0" text-anchor="middle" stroke="#1a1a1a" stroke-width="0.5" fill="#1a1a1a">–</text><text x="140.80" y="540.52" font-size="12.0" text-anchor="middle" stroke="#1a1a1a" stroke-width="0.5" fill="#1a1a1a">–</text><text x="178.30" y="540.52" font-size="12.0" text-anchor="middle" stroke="#1a1a1a" stroke-width="0.5" fill="#1a1a1a">–</text><text x="214.40" y="541.34" font-size="11.6" text-anchor="middle" stroke="#1a1a1a" stroke-width="0.5" fill="#1a1a1a">+</text><text x="251.30" y="541.34" font-size="11.6" text-anchor="middle" stroke="#1a1a1a" stroke-width="0.5" fill="#1a1a1a">+</text>
<text transform="translate(314.3,303.5) scale(1.09,1)" font-size="24.3" font-weight="bold">D</text>
<path d="M356.10 333.0 V331.60 M351.90 331.60 H360.30" stroke="#000" stroke-width="1.05" fill="none"/>
<rect x="348.3" y="333.0" width="15.6" height="52.00" fill="#d4d4d4" stroke="#000" stroke-width="1.05"/>
<path d="M356.10 385.0 V387.4" stroke="#000" stroke-width="1.05"/>
<path d="M379.50 364.3 V362.70 M375.30 362.70 H383.70" stroke="#000" stroke-width="1.05" fill="none"/>
<rect x="371.7" y="364.3" width="15.6" height="20.70" fill="#fddcc0" stroke="#000" stroke-width="1.05"/>
<path d="M379.50 385.0 V387.4" stroke="#000" stroke-width="1.05"/>
<path d="M403.10 357.3 V354.70 M398.90 354.70 H407.30" stroke="#000" stroke-width="1.05" fill="none"/>
<rect x="395.3" y="357.3" width="15.6" height="27.70" fill="#c6bee0" stroke="#000" stroke-width="1.05"/>
<path d="M403.10 385.0 V387.4" stroke="#000" stroke-width="1.05"/>
<path d="M426.60 371.9 V369.90 M422.40 369.90 H430.80" stroke="#000" stroke-width="1.05" fill="none"/>
<rect x="418.8" y="371.9" width="15.6" height="13.10" fill="#c6daf2" stroke="#000" stroke-width="1.05"/>
<path d="M426.60 385.0 V387.4" stroke="#000" stroke-width="1.05"/>
<path d="M449.90 376.7 V374.90 M445.70 374.90 H454.10" stroke="#000" stroke-width="1.05" fill="none"/>
<rect x="442.1" y="376.7" width="15.6" height="8.30" fill="#ebcfe6" stroke="#000" stroke-width="1.05"/>
<path d="M449.90 385.0 V387.4" stroke="#000" stroke-width="1.05"/>
<path d="M345.0 306.475 V385.0 M344.475 385.0 H461.8" stroke="#000" stroke-width="1.05" fill="none"/>
<path d="M342.1 307 H345.0" stroke="#000" stroke-width="1.05"/>
<text x="340.6" y="308.72" font-size="4.8" font-weight="bold" text-anchor="end">1.5</text>
<path d="M342.1 333.0 H345.0" stroke="#000" stroke-width="1.05"/>
<text x="340.6" y="334.72" font-size="4.8" font-weight="bold" text-anchor="end">1.0</text>
<path d="M342.1 359.0 H345.0" stroke="#000" stroke-width="1.05"/>
<text x="340.6" y="360.72" font-size="4.8" font-weight="bold" text-anchor="end">0.5</text>
<path d="M342.1 385.0 H345.0" stroke="#000" stroke-width="1.05"/>
<text x="340.6" y="386.72" font-size="4.8" font-weight="bold" text-anchor="end">0.0</text>
<text x="379.5" y="358.4" font-size="5.9" font-weight="bold" text-anchor="middle" stroke="#000" stroke-width="0.27">##</text>
<text x="403.1" y="355.3" font-size="9.8" font-weight="bold" text-anchor="middle">**</text>
<text x="426.3" y="366.9" font-size="6.6" font-weight="bold" text-anchor="middle" letter-spacing="-0.6">▲▲</text>
<text x="449.9" y="374.9" font-size="9.8" font-weight="bold" text-anchor="middle">**</text><text transform="translate(321.4,348.8) rotate(-90)" font-size="6.1" font-weight="bold" text-anchor="middle" textLength="69.4" lengthAdjust="spacingAndGlyphs">Relative expression of</text><text transform="translate(328.5,349.2) rotate(-90)" font-size="6.1" font-weight="bold" text-anchor="middle" textLength="57" lengthAdjust="spacingAndGlyphs">protein HO-1/β-actin</text><text x="348.8" y="396.1" font-size="5.5" font-weight="bold" text-anchor="end">APAP</text><text x="355.60" y="395.79" font-size="6.0" font-weight="bold" text-anchor="middle" stroke="#000" stroke-width="0.3">-</text><text x="379.50" y="396.04" font-size="5.4" font-weight="bold" text-anchor="middle" stroke="#000" stroke-width="0.3">+</text><text x="403.10" y="396.04" font-size="5.4" font-weight="bold" text-anchor="middle" stroke="#000" stroke-width="0.3">+</text><text x="426.60" y="396.04" font-size="5.4" font-weight="bold" text-anchor="middle" stroke="#000" stroke-width="0.3">+</text><text x="449.90" y="396.04" font-size="5.4" font-weight="bold" text-anchor="middle" stroke="#000" stroke-width="0.3">+</text><text x="348.8" y="404.8" font-size="5.5" font-weight="bold" text-anchor="end">BZE</text><text x="355.60" y="404.49" font-size="6.0" font-weight="bold" text-anchor="middle" stroke="#000" stroke-width="0.3">-</text><text x="379.50" y="404.49" font-size="6.0" font-weight="bold" text-anchor="middle" stroke="#000" stroke-width="0.3">-</text><text x="403.10" y="404.74" font-size="5.4" font-weight="bold" text-anchor="middle" stroke="#000" stroke-width="0.3">+</text><text x="426.60" y="404.74" font-size="5.4" font-weight="bold" text-anchor="middle" stroke="#000" stroke-width="0.3">+</text><text x="449.90" y="404.49" font-size="6.0" font-weight="bold" text-anchor="middle" stroke="#000" stroke-width="0.3">-</text><text x="348.8" y="413.9" font-size="5.8" font-weight="bold" text-anchor="end">Nrf2 siRNA</text><text x="355.60" y="413.59" font-size="6.0" font-weight="bold" text-anchor="middle" stroke="#000" stroke-width="0.3">-</text><text x="379.50" y="413.59" font-size="6.0" font-weight="bold" text-anchor="middle" stroke="#000" stroke-width="0.3">-</text><text x="403.10" y="413.59" font-size="6.0" font-weight="bold" text-anchor="middle" stroke="#000" stroke-width="0.3">-</text><text x="426.60" y="413.84" font-size="5.4" font-weight="bold" text-anchor="middle" stroke="#000" stroke-width="0.3">+</text><text x="449.90" y="413.84" font-size="5.4" font-weight="bold" text-anchor="middle" stroke="#000" stroke-width="0.3">+</text>
<path d="M517.20 332.9 V330.30 M513.00 330.30 H521.40" stroke="#000" stroke-width="1.05" fill="none"/>
<rect x="509.2" y="332.9" width="16" height="52.60" fill="#d4d4d4" stroke="#000" stroke-width="1.05"/>
<path d="M517.20 385.5 V387.9" stroke="#000" stroke-width="1.05"/>
<path d="M540.80 362.3 V360.20 M536.60 360.20 H545.00" stroke="#000" stroke-width="1.05" fill="none"/>
<rect x="532.8" y="362.3" width="16" height="23.20" fill="#fddcc0" stroke="#000" stroke-width="1.05"/>
<path d="M540.80 385.5 V387.9" stroke="#000" stroke-width="1.05"/>
<path d="M564.80 343.1 V340.10 M560.60 340.10 H569.00" stroke="#000" stroke-width="1.05" fill="none"/>
<rect x="556.8" y="343.1" width="16" height="42.40" fill="#c6bee0" stroke="#000" stroke-width="1.05"/>
<path d="M564.80 385.5 V387.9" stroke="#000" stroke-width="1.05"/>
<path d="M588.80 351.3 V348.70 M584.60 348.70 H593.00" stroke="#000" stroke-width="1.05" fill="none"/>
<rect x="580.8" y="351.3" width="16" height="34.20" fill="#c6daf2" stroke="#000" stroke-width="1.05"/>
<path d="M588.80 385.5 V387.9" stroke="#000" stroke-width="1.05"/>
<path d="M612.60 366.2 V363.60 M608.40 363.60 H616.80" stroke="#000" stroke-width="1.05" fill="none"/>
<rect x="604.6" y="366.2" width="16" height="19.30" fill="#ebcfe6" stroke="#000" stroke-width="1.05"/>
<path d="M612.60 385.5 V387.9" stroke="#000" stroke-width="1.05"/>
<path d="M505.1 306.07500000000005 V385.5 M504.57500000000005 385.5 H623.8" stroke="#000" stroke-width="1.05" fill="none"/>
<path d="M502.20000000000005 306.6 H505.1" stroke="#000" stroke-width="1.05"/>
<text x="500.70000000000005" y="308.32" font-size="4.8" font-weight="bold" text-anchor="end">1.5</text>
<path d="M502.20000000000005 332.9 H505.1" stroke="#000" stroke-width="1.05"/>
<text x="500.70000000000005" y="334.62" font-size="4.8" font-weight="bold" text-anchor="end">1.0</text>
<path d="M502.20000000000005 359.2 H505.1" stroke="#000" stroke-width="1.05"/>
<text x="500.70000000000005" y="360.92" font-size="4.8" font-weight="bold" text-anchor="end">0.5</text>
<path d="M502.20000000000005 385.5 H505.1" stroke="#000" stroke-width="1.05"/>
<text x="500.70000000000005" y="387.22" font-size="4.8" font-weight="bold" text-anchor="end">0.0</text>
<text x="540.8" y="355.3" font-size="5.9" font-weight="bold" text-anchor="middle" stroke="#000" stroke-width="0.27">##</text>
<text x="564.8" y="339.7" font-size="9.8" font-weight="bold" text-anchor="middle">**</text>
<text x="588.5" y="345.0" font-size="6.6" font-weight="bold" text-anchor="middle" letter-spacing="-0.6">▲▲</text>
<text x="612.6" y="362.6" font-size="9.8" font-weight="bold" text-anchor="middle">**</text><text transform="translate(481.4,347.1) rotate(-90)" font-size="6.1" font-weight="bold" text-anchor="middle" textLength="69.4" lengthAdjust="spacingAndGlyphs">Relative expression of</text><text transform="translate(489.4,347.5) rotate(-90)" font-size="6.1" font-weight="bold" text-anchor="middle" textLength="58.7" lengthAdjust="spacingAndGlyphs">protein Bcl-2/β-actin</text><text x="508.8" y="395.5" font-size="5.5" font-weight="bold" text-anchor="end">APAP</text><text x="516.70" y="395.19" font-size="6.0" font-weight="bold" text-anchor="middle" stroke="#000" stroke-width="0.3">-</text><text x="540.80" y="395.44" font-size="5.4" font-weight="bold" text-anchor="middle" stroke="#000" stroke-width="0.3">+</text><text x="564.80" y="395.44" font-size="5.4" font-weight="bold" text-anchor="middle" stroke="#000" stroke-width="0.3">+</text><text x="588.80" y="395.44" font-size="5.4" font-weight="bold" text-anchor="middle" stroke="#000" stroke-width="0.3">+</text><text x="612.60" y="395.44" font-size="5.4" font-weight="bold" text-anchor="middle" stroke="#000" stroke-width="0.3">+</text><text x="508.8" y="404.0" font-size="5.5" font-weight="bold" text-anchor="end">BZE</text><text x="516.70" y="403.69" font-size="6.0" font-weight="bold" text-anchor="middle" stroke="#000" stroke-width="0.3">-</text><text x="540.80" y="403.69" font-size="6.0" font-weight="bold" text-anchor="middle" stroke="#000" stroke-width="0.3">-</text><text x="564.80" y="403.94" font-size="5.4" font-weight="bold" text-anchor="middle" stroke="#000" stroke-width="0.3">+</text><text x="588.80" y="403.94" font-size="5.4" font-weight="bold" text-anchor="middle" stroke="#000" stroke-width="0.3">+</text><text x="612.60" y="403.69" font-size="6.0" font-weight="bold" text-anchor="middle" stroke="#000" stroke-width="0.3">-</text><text x="508.8" y="413.5" font-size="5.8" font-weight="bold" text-anchor="end">Nrf2 siRNA</text><text x="516.70" y="413.19" font-size="6.0" font-weight="bold" text-anchor="middle" stroke="#000" stroke-width="0.3">-</text><text x="540.80" y="413.19" font-size="6.0" font-weight="bold" text-anchor="middle" stroke="#000" stroke-width="0.3">-</text><text x="564.80" y="413.19" font-size="6.0" font-weight="bold" text-anchor="middle" stroke="#000" stroke-width="0.3">-</text><text x="588.80" y="413.44" font-size="5.4" font-weight="bold" text-anchor="middle" stroke="#000" stroke-width="0.3">+</text><text x="612.60" y="413.44" font-size="5.4" font-weight="bold" text-anchor="middle" stroke="#000" stroke-width="0.3">+</text>
<path d="M355.50 497.4 V496.10 M351.30 496.10 H359.70" stroke="#000" stroke-width="1.05" fill="none"/>
<rect x="347.7" y="497.4" width="15.6" height="15.50" fill="#d4d4d4" stroke="#000" stroke-width="1.05"/>
<path d="M355.50 512.9 V515.3" stroke="#000" stroke-width="1.05"/>
<path d="M379.10 464.4 V463.10 M374.90 463.10 H383.30" stroke="#000" stroke-width="1.05" fill="none"/>
<rect x="371.3" y="464.4" width="15.6" height="48.50" fill="#fddcc0" stroke="#000" stroke-width="1.05"/>
<path d="M379.10 512.9 V515.3" stroke="#000" stroke-width="1.05"/>
<path d="M402.60 482.3 V480.50 M398.40 480.50 H406.80" stroke="#000" stroke-width="1.05" fill="none"/>
<rect x="394.8" y="482.3" width="15.6" height="30.60" fill="#c6bee0" stroke="#000" stroke-width="1.05"/>
<path d="M402.60 512.9 V515.3" stroke="#000" stroke-width="1.05"/>
<path d="M426.20 458.1 V456.80 M422.00 456.80 H430.40" stroke="#000" stroke-width="1.05" fill="none"/>
<rect x="418.4" y="458.1" width="15.6" height="54.80" fill="#c6daf2" stroke="#000" stroke-width="1.05"/>
<path d="M426.20 512.9 V515.3" stroke="#000" stroke-width="1.05"/>
<path d="M449.80 449.0 V447.70 M445.60 447.70 H454.00" stroke="#000" stroke-width="1.05" fill="none"/>
<rect x="442" y="449.0" width="15.6" height="63.90" fill="#ebcfe6" stroke="#000" stroke-width="1.05"/>
<path d="M449.80 512.9 V515.3" stroke="#000" stroke-width="1.05"/>
<path d="M344.7 434.375 V512.9 M344.175 512.9 H461.8" stroke="#000" stroke-width="1.05" fill="none"/>
<path d="M341.8 434.9 H344.7" stroke="#000" stroke-width="1.05"/>
<text x="340.3" y="436.62" font-size="4.8" font-weight="bold" text-anchor="end">5</text>
<path d="M341.8 450.6 H344.7" stroke="#000" stroke-width="1.05"/>
<text x="340.3" y="452.32" font-size="4.8" font-weight="bold" text-anchor="end">4</text>
<path d="M341.8 466.3 H344.7" stroke="#000" stroke-width="1.05"/>
<text x="340.3" y="468.02" font-size="4.8" font-weight="bold" text-anchor="end">3</text>
<path d="M341.8 481.7 H344.7" stroke="#000" stroke-width="1.05"/>
<text x="340.3" y="483.42" font-size="4.8" font-weight="bold" text-anchor="end">2</text>
<path d="M341.8 497.4 H344.7" stroke="#000" stroke-width="1.05"/>
<text x="340.3" y="499.12" font-size="4.8" font-weight="bold" text-anchor="end">1</text>
<path d="M341.8 512.9 H344.7" stroke="#000" stroke-width="1.05"/>
<text x="340.3" y="514.62" font-size="4.8" font-weight="bold" text-anchor="end">0</text>
<text x="379.1" y="459.3" font-size="5.9" font-weight="bold" text-anchor="middle" stroke="#000" stroke-width="0.27">##</text>
<text x="402.6" y="480.3" font-size="9.8" font-weight="bold" text-anchor="middle">**</text>
<text x="425.9" y="452.7" font-size="6.6" font-weight="bold" text-anchor="middle" letter-spacing="-0.6">▲▲</text>
<text x="449.8" y="447.2" font-size="9.8" font-weight="bold" text-anchor="middle">**</text><text transform="translate(325.2,474.7) rotate(-90)" font-size="6.1" font-weight="bold" text-anchor="middle" textLength="65.6" lengthAdjust="spacingAndGlyphs">Relative expression of</text><text transform="translate(332.7,473.0) rotate(-90)" font-size="6.1" font-weight="bold" text-anchor="middle" textLength="57" lengthAdjust="spacingAndGlyphs">protein Bax/β-actin</text><text x="348.3" y="522.3" font-size="5.5" font-weight="bold" text-anchor="end">APAP</text><text x="355.00" y="521.99" font-size="6.0" font-weight="bold" text-anchor="middle" stroke="#000" stroke-width="0.3">-</text><text x="379.10" y="522.24" font-size="5.4" font-weight="bold" text-anchor="middle" stroke="#000" stroke-width="0.3">+</text><text x="402.60" y="522.24" font-size="5.4" font-weight="bold" text-anchor="middle" stroke="#000" stroke-width="0.3">+</text><text x="426.20" y="522.24" font-size="5.4" font-weight="bold" text-anchor="middle" stroke="#000" stroke-width="0.3">+</text><text x="449.80" y="522.24" font-size="5.4" font-weight="bold" text-anchor="middle" stroke="#000" stroke-width="0.3">+</text><text x="348.3" y="531.1" font-size="5.5" font-weight="bold" text-anchor="end">BZE</text><text x="355.00" y="530.79" font-size="6.0" font-weight="bold" text-anchor="middle" stroke="#000" stroke-width="0.3">-</text><text x="379.10" y="530.79" font-size="6.0" font-weight="bold" text-anchor="middle" stroke="#000" stroke-width="0.3">-</text><text x="402.60" y="531.04" font-size="5.4" font-weight="bold" text-anchor="middle" stroke="#000" stroke-width="0.3">+</text><text x="426.20" y="531.04" font-size="5.4" font-weight="bold" text-anchor="middle" stroke="#000" stroke-width="0.3">+</text><text x="449.80" y="530.79" font-size="6.0" font-weight="bold" text-anchor="middle" stroke="#000" stroke-width="0.3">-</text><text x="348.3" y="540.7" font-size="5.8" font-weight="bold" text-anchor="end">Nrf2 siRNA</text><text x="355.00" y="540.39" font-size="6.0" font-weight="bold" text-anchor="middle" stroke="#000" stroke-width="0.3">-</text><text x="379.10" y="540.39" font-size="6.0" font-weight="bold" text-anchor="middle" stroke="#000" stroke-width="0.3">-</text><text x="402.60" y="540.39" font-size="6.0" font-weight="bold" text-anchor="middle" stroke="#000" stroke-width="0.3">-</text><text x="426.20" y="540.64" font-size="5.4" font-weight="bold" text-anchor="middle" stroke="#000" stroke-width="0.3">+</text><text x="449.80" y="540.64" font-size="5.4" font-weight="bold" text-anchor="middle" stroke="#000" stroke-width="0.3">+</text>
<path d="M520.70 485.9 V483.60 M516.50 483.60 H524.90" stroke="#000" stroke-width="1.05" fill="none"/>
<rect x="512.6" y="485.9" width="16.2" height="26.10" fill="#d4d4d4" stroke="#000" stroke-width="1.05"/>
<path d="M520.70 512.0 V514.4" stroke="#000" stroke-width="1.05"/>
<path d="M544.50 458.0 V456.80 M540.30 456.80 H548.70" stroke="#000" stroke-width="1.05" fill="none"/>
<rect x="536.4" y="458.0" width="16.2" height="54.00" fill="#fddcc0" stroke="#000" stroke-width="1.05"/>
<path d="M544.50 512.0 V514.4" stroke="#000" stroke-width="1.05"/>
<path d="M568.00 480.4 V478.20 M563.80 478.20 H572.20" stroke="#000" stroke-width="1.05" fill="none"/>
<rect x="559.9" y="480.4" width="16.2" height="31.60" fill="#c6bee0" stroke="#000" stroke-width="1.05"/>
<path d="M568.00 512.0 V514.4" stroke="#000" stroke-width="1.05"/>
<path d="M592.10 461.7 V460.10 M587.90 460.10 H596.30" stroke="#000" stroke-width="1.05" fill="none"/>
<rect x="584.0" y="461.7" width="16.2" height="50.30" fill="#c6daf2" stroke="#000" stroke-width="1.05"/>
<path d="M592.10 512.0 V514.4" stroke="#000" stroke-width="1.05"/>
<path d="M615.80 440.8 V439.30 M611.60 439.30 H620.00" stroke="#000" stroke-width="1.05" fill="none"/>
<rect x="607.7" y="440.8" width="16.2" height="71.20" fill="#ebcfe6" stroke="#000" stroke-width="1.05"/>
<path d="M615.80 512.0 V514.4" stroke="#000" stroke-width="1.05"/>
<path d="M509.0 433.27500000000003 V512.0 M508.475 512.0 H627.5" stroke="#000" stroke-width="1.05" fill="none"/>
<path d="M506.1 433.8 H509.0" stroke="#000" stroke-width="1.05"/>
<text x="504.6" y="435.52" font-size="4.8" font-weight="bold" text-anchor="end">3</text>
<path d="M506.1 459.4 H509.0" stroke="#000" stroke-width="1.05"/>
<text x="504.6" y="461.12" font-size="4.8" font-weight="bold" text-anchor="end">2</text>
<path d="M506.1 485.8 H509.0" stroke="#000" stroke-width="1.05"/>
<text x="504.6" y="487.52" font-size="4.8" font-weight="bold" text-anchor="end">1</text>
<path d="M506.1 512.0 H509.0" stroke="#000" stroke-width="1.05"/>
<text x="504.6" y="513.72" font-size="4.8" font-weight="bold" text-anchor="end">0</text>
<text x="544.5" y="451.8" font-size="5.9" font-weight="bold" text-anchor="middle" stroke="#000" stroke-width="0.27">##</text>
<text x="568.0" y="477.9" font-size="9.8" font-weight="bold" text-anchor="middle">**</text>
<text x="591.8" y="456.0" font-size="6.6" font-weight="bold" text-anchor="middle" letter-spacing="-0.6">▲▲</text>
<text x="615.8" y="438.3" font-size="9.8" font-weight="bold" text-anchor="middle">**</text><text transform="translate(490.0,473.5) rotate(-90)" font-size="6.1" font-weight="bold" text-anchor="middle" textLength="64.5" lengthAdjust="spacingAndGlyphs">Relative expression of</text><text transform="translate(498.0,472.6) rotate(-90)" font-size="6.1" font-weight="bold" text-anchor="middle" textLength="76" lengthAdjust="spacingAndGlyphs">protein Caspase-3/β-actin</text><text x="514.0" y="522.4" font-size="5.5" font-weight="bold" text-anchor="end">APAP</text><text x="520.20" y="522.09" font-size="6.0" font-weight="bold" text-anchor="middle" stroke="#000" stroke-width="0.3">-</text><text x="544.50" y="522.34" font-size="5.4" font-weight="bold" text-anchor="middle" stroke="#000" stroke-width="0.3">+</text><text x="568.00" y="522.34" font-size="5.4" font-weight="bold" text-anchor="middle" stroke="#000" stroke-width="0.3">+</text><text x="592.10" y="522.34" font-size="5.4" font-weight="bold" text-anchor="middle" stroke="#000" stroke-width="0.3">+</text><text x="615.80" y="522.34" font-size="5.4" font-weight="bold" text-anchor="middle" stroke="#000" stroke-width="0.3">+</text><text x="514.0" y="531.7" font-size="5.5" font-weight="bold" text-anchor="end">BZE</text><text x="520.20" y="531.39" font-size="6.0" font-weight="bold" text-anchor="middle" stroke="#000" stroke-width="0.3">-</text><text x="544.50" y="531.39" font-size="6.0" font-weight="bold" text-anchor="middle" stroke="#000" stroke-width="0.3">-</text><text x="568.00" y="531.64" font-size="5.4" font-weight="bold" text-anchor="middle" stroke="#000" stroke-width="0.3">+</text><text x="592.10" y="531.64" font-size="5.4" font-weight="bold" text-anchor="middle" stroke="#000" stroke-width="0.3">+</text><text x="615.80" y="531.39" font-size="6.0" font-weight="bold" text-anchor="middle" stroke="#000" stroke-width="0.3">-</text><text x="514.0" y="541.2" font-size="5.8" font-weight="bold" text-anchor="end">Nrf2 siRNA</text><text x="520.20" y="540.89" font-size="6.0" font-weight="bold" text-anchor="middle" stroke="#000" stroke-width="0.3">-</text><text x="544.50" y="540.89" font-size="6.0" font-weight="bold" text-anchor="middle" stroke="#000" stroke-width="0.3">-</text><text x="568.00" y="540.89" font-size="6.0" font-weight="bold" text-anchor="middle" stroke="#000" stroke-width="0.3">-</text><text x="592.10" y="541.14" font-size="5.4" font-weight="bold" text-anchor="middle" stroke="#000" stroke-width="0.3">+</text><text x="615.80" y="541.14" font-size="5.4" font-weight="bold" text-anchor="middle" stroke="#000" stroke-width="0.3">+</text>
<rect x="627.4" y="384.4" width="1.6" height="1.2" fill="#c4c4c4"/>
</svg>
</body></html>
